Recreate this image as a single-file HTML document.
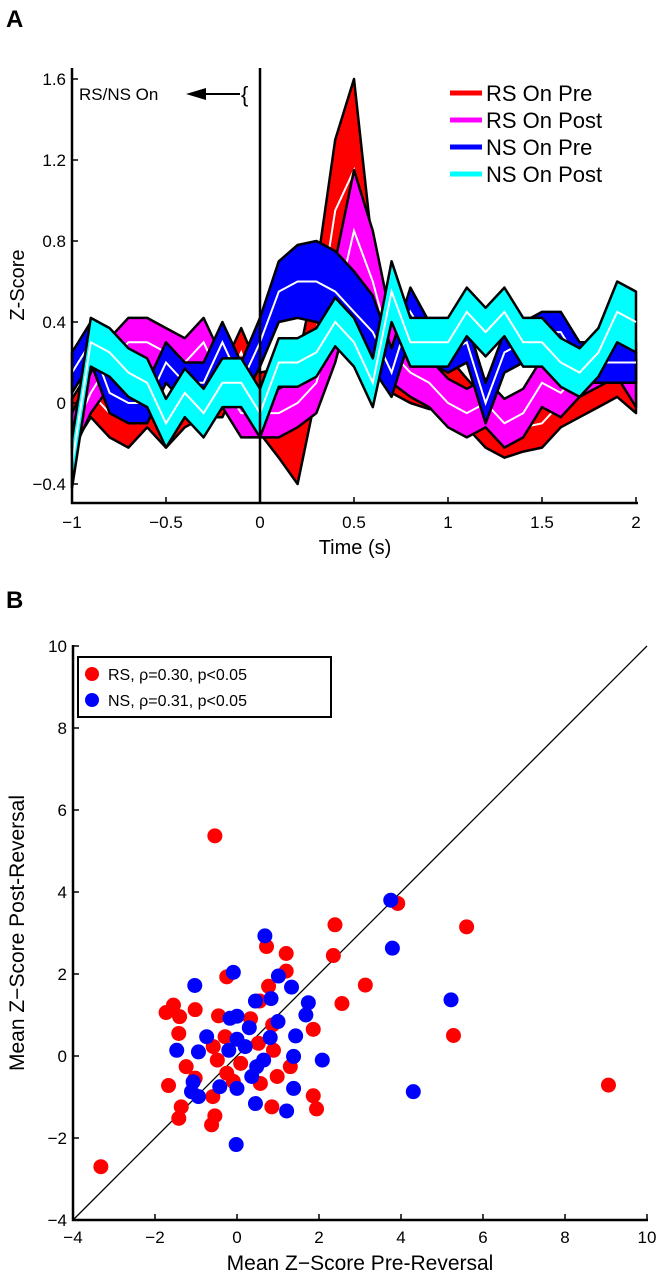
<!DOCTYPE html>
<html><head><meta charset="utf-8"><style>
body{margin:0;background:#fff;}
svg{display:block;font-family:"Liberation Sans",Arial,sans-serif;}
</style></head><body>
<svg id="fig" width="659" height="1280" viewBox="0 0 659 1280"></svg>
<script>
// Panel A data
const times=[-1,-0.9,-0.8,-0.7,-0.6,-0.5,-0.4,-0.3,-0.2,-0.1,0,0.1,0.2,0.3,0.4,0.5,0.6,0.7,0.8,0.9,1.0,1.1,1.2,1.3,1.4,1.5,1.6,1.7,1.8,1.9,2.0];
const rsPreMean=[-0.1,0.05,-0.05,-0.1,0.0,-0.1,0.0,0.05,0.05,0.25,0.0,-0.05,-0.1,0.35,0.95,1.15,0.5,0.2,0.15,0.1,0.1,0.0,-0.1,-0.15,-0.12,-0.1,0.0,0.05,0.1,0.15,0.1];
const rsPreSem=[0.12,0.12,0.12,0.12,0.12,0.12,0.12,0.12,0.12,0.12,0.15,0.22,0.3,0.3,0.35,0.45,0.25,0.15,0.15,0.13,0.13,0.12,0.12,0.12,0.12,0.12,0.12,0.12,0.12,0.12,0.15];
const rsPostMean=[-0.15,0.05,0.2,0.3,0.3,0.25,0.2,0.3,0.1,-0.05,-0.05,-0.05,0.0,0.1,0.45,0.85,0.6,0.25,0.15,0.1,0.0,-0.05,0.0,-0.1,-0.05,0.1,0.05,0.15,0.2,0.25,0.1];
const rsPostSem=[0.1,0.1,0.12,0.12,0.12,0.12,0.12,0.12,0.12,0.12,0.12,0.12,0.12,0.15,0.25,0.3,0.25,0.15,0.12,0.12,0.12,0.12,0.12,0.12,0.12,0.12,0.12,0.12,0.12,0.12,0.12];
const nsPreMean=[0.15,0.3,0.05,0.0,0.0,0.2,0.1,0.1,0.3,0.1,0.3,0.55,0.6,0.6,0.55,0.45,0.35,0.15,0.45,0.3,0.25,0.3,0.0,0.25,0.3,0.35,0.35,0.2,0.2,0.2,0.2];
const nsPreSem=[0.1,0.1,0.1,0.1,0.1,0.1,0.1,0.1,0.1,0.1,0.12,0.15,0.18,0.2,0.2,0.2,0.18,0.12,0.12,0.1,0.1,0.1,0.1,0.1,0.1,0.1,0.1,0.1,0.1,0.1,0.1];
const nsPostMean=[-0.3,0.3,0.25,0.15,0.1,-0.1,0.05,-0.05,0.1,0.1,-0.05,0.2,0.2,0.25,0.4,0.3,0.1,0.55,0.3,0.3,0.3,0.45,0.35,0.45,0.3,0.3,0.2,0.15,0.25,0.45,0.4];
const nsPostSem=[0.12,0.12,0.12,0.12,0.12,0.12,0.12,0.12,0.12,0.12,0.12,0.12,0.12,0.12,0.12,0.12,0.12,0.15,0.12,0.12,0.12,0.12,0.12,0.12,0.12,0.12,0.12,0.12,0.12,0.15,0.15];
const aXTicks=[-1,-0.5,0,0.5,1,1.5,2];
const aXTickLabels=["\u22121","\u22120.5","0","0.5","1","1.5","2"];
const aYTicks=[-0.4,0,0.4,0.8,1.2,1.6];
const aYTickLabels=["\u22120.4","0","0.4","0.8","1.2","1.6"];
// Panel B data
const rsX=[-0.54,2.39,0.72,1.2,2.35,1.2,-0.25,0.77,-1.55,-1.73,0.55,2.56,-1.4,-1.02,-0.45,0.33,0.87,-1.42,1.86,-0.29,0.52,-0.58,0.89,-1.24,-0.48,0.09,1.3,-1.02,-0.25,-0.09,0.98,0.57,-1.67,-0.59,1.86,-1.36,0.85,1.94,-1.42,-0.54,-0.62,-3.32,3.92,5.6,3.13,5.28,9.06];
const rsY=[5.37,3.2,2.67,2.5,2.45,2.07,1.93,1.7,1.24,1.06,1.34,1.28,0.96,1.13,0.98,0.91,0.76,0.55,0.65,0.47,0.31,0.23,0.14,-0.26,-0.1,-0.18,-0.26,-0.54,-0.42,-0.62,-0.5,-0.67,-0.72,-0.99,-0.97,-1.24,-1.24,-1.29,-1.52,-1.46,-1.68,-2.7,3.72,3.15,1.73,0.5,-0.71];
const nsX=[3.75,3.79,5.22,1.74,1.68,2.08,4.3,0.68,-0.09,-1.03,1.01,1.33,0.45,0.83,-0.17,0.0,0.3,1.0,-0.74,0.0,0.81,1.43,-1.47,-0.94,-0.2,0.2,1.38,0.65,0.48,0.36,-1.07,-1.11,-0.94,-0.42,0.0,1.38,0.45,1.21,-0.02];
const nsY=[3.8,2.63,1.37,1.3,1.0,-0.1,-0.87,2.93,2.04,1.72,1.95,1.68,1.34,1.4,0.92,0.97,0.69,0.84,0.47,0.41,0.45,0.49,0.14,0.1,0.14,0.23,-0.01,-0.1,-0.26,-0.5,-0.63,-0.87,-0.99,-0.75,-0.79,-0.79,-1.16,-1.34,-2.16];
const bTicks=[-4,-2,0,2,4,6,8,10];
const bTickLabels=["\u22124","\u22122","0","2","4","6","8","10"];

const NS="http://www.w3.org/2000/svg";
const svg=document.getElementById('fig');
function mk(tag,attrs,parent){const e=document.createElementNS(NS,tag);for(const k in attrs)e.setAttribute(k,attrs[k]);(parent||svg).appendChild(e);return e;}
function txt(s,attrs,parent){const e=mk('text',attrs,parent);e.textContent=s;return e;}

// ---- Panel A ----
const ax=t=>72+(t+1)*188;
const ay=v=>403-v*202.5;
const gA=mk('g',{});


const series=[["rs-on-pre",rsPreMean,rsPreSem,"#ff0000"],["rs-on-post",rsPostMean,rsPostSem,"#ff00ff"],["ns-on-pre",nsPreMean,nsPreSem,"#0000ff"],["ns-on-post",nsPostMean,nsPostSem,"#00ffff"]];
series.forEach(s=>{
  const [nm,m,se,col]=s;
  let up=times.map((t,i)=>ax(t).toFixed(1)+","+ay(m[i]+se[i]).toFixed(1));
  let lo=times.map((t,i)=>ax(t).toFixed(1)+","+ay(m[i]-se[i]).toFixed(1)).reverse();
  const band=mk('polygon',{points:up.concat(lo).join(" "),fill:col,stroke:"#000","stroke-width":2.5,"stroke-linejoin":"round"},gA);
  
  
  const ml=mk('polyline',{points:times.map((t,i)=>ax(t).toFixed(1)+","+ay(m[i]).toFixed(1)).join(" "),fill:"none",stroke:"#fff","stroke-width":2},gA);
  
  
});
let l=mk('line',{x1:72,y1:68,x2:72,y2:504,stroke:"#000","stroke-width":2.5},gA);

l=mk('line',{x1:71,y1:503,x2:638,y2:503,stroke:"#000","stroke-width":2.5},gA);

l=mk('line',{x1:ax(0),y1:68,x2:ax(0),y2:503,stroke:"#000","stroke-width":2.5},gA);

aXTicks.forEach((t,i)=>{
  mk('line',{x1:ax(t),y1:503,x2:ax(t),y2:497,stroke:"#000","stroke-width":1.5},gA);
  const e=txt(aXTickLabels[i],{x:ax(t),y:528,"font-size":17,"text-anchor":"middle"},gA);
  
});
aYTicks.forEach((v,i)=>{
  mk('line',{x1:72,y1:ay(v),x2:78,y2:ay(v),stroke:"#000","stroke-width":1.5},gA);
  const e=txt(aYTickLabels[i],{x:66,y:ay(v)+6,"font-size":17,"text-anchor":"end"},gA);
  
});
let e=txt("Time (s)",{x:355,y:554,"font-size":20,"text-anchor":"middle"},gA);

e=txt("Z-Score",{x:0,y:0,"font-size":20,"text-anchor":"middle",transform:"translate(24,285) rotate(-90)"},gA);

e=txt("A",{x:6,y:27,"font-size":24,"font-weight":"bold"},gA);

e=txt("RS/NS On",{x:79,y:100,"font-size":17},gA);

mk('line',{x1:200,y1:94,x2:240,y2:94,stroke:"#000","stroke-width":2},gA);
mk('polygon',{points:"186,94 206,88 206,100",fill:"#000"},gA);
txt("{",{x:241,y:102,"font-size":22},gA);
const legA=mk('g',{},gA);

const legNames=["RS On Pre","RS On Post","NS On Pre","NS On Post"];
series.forEach((s,i)=>{
  const y=93+i*27;
  mk('line',{x1:450,y1:y,x2:482,y2:y,stroke:s[3],"stroke-width":5},legA);
  const t=txt(legNames[i],{x:486,y:y+8,"font-size":22},legA);
  
});

// ---- Panel B ----
const bx=v=>237+v*41;
const by=v=>1056-v*41;
const gB=mk('g',{});


l=mk('line',{x1:bx(-4),y1:by(-4),x2:bx(10),y2:by(10),stroke:"#000","stroke-width":1.3},gB);

rsX.forEach((x,i)=>{
  const c=mk('circle',{cx:bx(x),cy:by(rsY[i]),r:7.5,fill:"#ff0000"},gB);
  
});
nsX.forEach((x,i)=>{
  const c=mk('circle',{cx:bx(x),cy:by(nsY[i]),r:7.5,fill:"#0000ff"},gB);
  
});
l=mk('line',{x1:73,y1:645,x2:73,y2:1221,stroke:"#000","stroke-width":2.5},gB);

l=mk('line',{x1:72,y1:1220,x2:648,y2:1220,stroke:"#000","stroke-width":2.5},gB);

bTicks.forEach((v,i)=>{
  mk('line',{x1:bx(v),y1:1220,x2:bx(v),y2:1214,stroke:"#000","stroke-width":1.5},gB);
  let t=txt(bTickLabels[i],{x:bx(v),y:1243,"font-size":17,"text-anchor":"middle"},gB);
  
  mk('line',{x1:73,y1:by(v),x2:79,y2:by(v),stroke:"#000","stroke-width":1.5},gB);
  t=txt(bTickLabels[i],{x:67,y:by(v)+6,"font-size":17,"text-anchor":"end"},gB);
  
});
e=txt("Mean Z\u2212Score Pre-Reversal",{x:360,y:1270,"font-size":21,"text-anchor":"middle"},gB);

e=txt("Mean Z\u2212Score Post-Reversal",{x:0,y:0,"font-size":21,"text-anchor":"middle",transform:"translate(24,933) rotate(-90)"},gB);

e=txt("B",{x:6,y:608,"font-size":24,"font-weight":"bold"},gB);

const legB=mk('g',{},gB);

mk('rect',{x:78,y:657,width:253,height:60,fill:"#fff",stroke:"#000","stroke-width":2},legB);
mk('circle',{cx:92,cy:674,r:7,fill:"#ff0000"},legB);
mk('circle',{cx:92,cy:700,r:7,fill:"#0000ff"},legB);
let t=txt("RS, \u03c1=0.30, p<0.05",{x:108,y:680,"font-size":16},legB);

t=txt("NS, \u03c1=0.31, p<0.05",{x:108,y:706,"font-size":16},legB);

</script>
</body></html>
